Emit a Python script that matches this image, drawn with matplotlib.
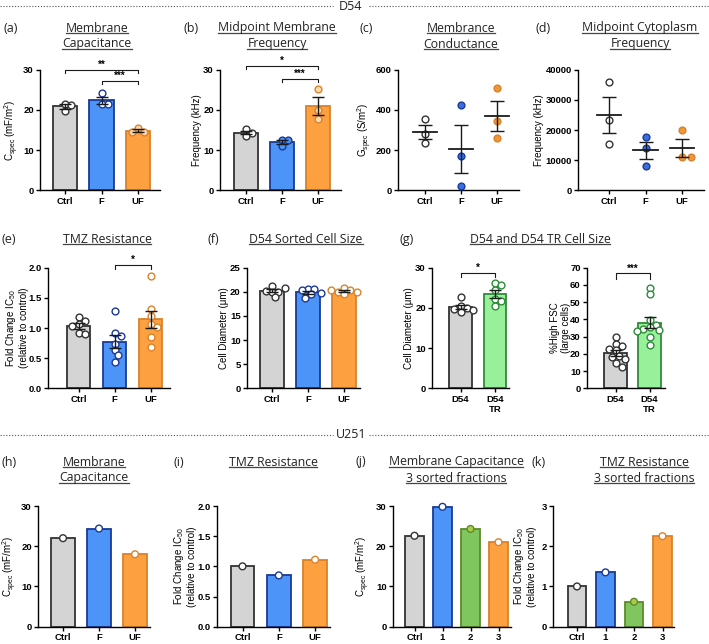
import numpy as np
import matplotlib
matplotlib.use('Agg')
import matplotlib.pyplot as plt
from matplotlib.lines import Line2D
from matplotlib.ticker import FormatStrFormatter

plt.rcParams['font.family'] = ['Liberation Sans', 'DejaVu Sans']
plt.rcParams['font.weight'] = 'bold'
plt.rcParams['mathtext.default'] = 'regular'

W, H = 709, 644

# ---- data ----
grp3 = ['Ctrl', 'F', 'UF']
grp4 = ['Ctrl', '1', '2', '3']
grp_tr = ['D54', 'D54\nTR']

# (a) D54 membrane capacitance (mF/m2)
cap_a = [[21.4, 21.3, 19.8], [24.2, 21.4, 21.4], [15.5, 14.4, 14.4]]
# (b) midpoint membrane frequency (kHz)
fmem_b = [[15.2, 14.3, 13.6], [12.6, 12.5, 11.1], [25.1, 19.9, 17.8]]
# (c) membrane conductance (S/m2)
gmem_c = [[355, 282, 236], [426, 169, 22], [509, 343, 259]]
# (d) midpoint cytoplasm frequency (kHz)
fcyt_d = [[36000, 23400, 15500], [17800, 14000, 8000], [20000, 11150, 11150]]
# (e) TMZ resistance, fold change IC50
tmz_e = [[1.18, 1.12, 1.06, 1.03, 0.91, 0.90],
         [1.28, 0.91, 0.86, 0.74, 0.63, 0.55, 0.44],
         [1.87, 1.32, 1.20, 1.07, 1.02, 0.85, 0.69]]
# (f) D54 sorted cell size (um)
size_f = [[21.2, 20.0, 20.0, 20.1, 20.8, 19.0],
          [20.5, 20.5, 20.4, 19.7, 19.5, 18.8],
          [20.8, 20.3, 20.0, 19.9, 19.5, 20.4]]
# (g) D54 vs D54 TR
diam_g = [[22.7, 20.4, 20.0, 19.8, 19.5, 19.0], [26.1, 25.7, 24.4, 22.1, 21.7, 20.5]]
fsc_g = [[29.5, 25.5, 24.8, 23.0, 22.0, 19.0, 18.0, 17.0, 14.8, 12.3],
         [58.0, 54.5, 39.5, 37.0, 35.5, 34.5, 34.0, 33.0, 30.0, 25.0]]
# (h)-(k) U251
cap_h = [22.0, 24.4, 18.0]
tmz_i = [1.0, 0.85, 1.11]
cap_j = [22.6, 29.8, 24.3, 21.0]
tmz_k = [1.0, 1.35, 0.62, 2.25]

# colours (fill, edge)
GRAY = ('#d4d4d4', '#333333')
BLUE = ('#4c94f7', '#1b3a94')
ORANGE = ('#fda040', '#d9822b')
LGREEN = ('#98f09a', '#2e8b3a')
GREEN = ('#80c65f', '#5f8a2a')

fig = plt.figure(figsize=(7.09, 6.44), dpi=100)


def make_ax(x0, c0, sp, xr, y_top, y_bot, ymax, yticks, labels):
    xl = -(c0 - x0) / sp
    w = (xr - xl) * sp
    ax = fig.add_axes([x0 / W, 1 - y_bot / H, w / W, (y_bot - y_top) / H])
    ax.set_xlim(xl, xr)
    ax.set_ylim(0, ymax)
    ax.set_yticks(yticks)
    ax.set_xticks(range(len(labels)))
    ax.set_xticklabels(labels)
    ax.spines[['top', 'right']].set_visible(False)
    ax.spines[['left', 'bottom']].set_linewidth(1.0)
    ax.tick_params(labelsize=6.8, width=1.0, length=3, pad=1.5)
    ax.patch.set_alpha(0)
    ax._px = (x0, w)
    return ax


def ylab(ax, text, right_px):
    ax.set_ylabel(text, fontsize=7.0, linespacing=1.1)
    x0, w = ax._px
    ax.yaxis.set_label_coords((right_px - x0) / w, 0.5)


def swarm(ax, xc, vals, d=7.0, gap=0.8):
    bb = ax.get_position()
    x0, x1 = ax.get_xlim()
    y0, y1 = ax.get_ylim()
    sx = bb.width * W / (x1 - x0)
    sy = bb.height * H / (y1 - y0)
    placed, xs = [], []
    for v in vals:
        py = v * sy
        for k in range(60):
            off = ((k + 1) // 2) * 0.45 * d * (1 if k % 2 else -1)
            if all((off - qx) ** 2 + (py - qy) ** 2 >= (gap * d) ** 2 for qx, qy in placed):
                break
        placed.append((off, py))
        xs.append(xc + off / sx)
    return xs


def sem(v):
    return np.std(v, ddof=1) / np.sqrt(len(v))


def bar_panel(ax, data, cols, faces):
    x = np.arange(len(data))
    m = [np.mean(v) for v in data]
    e = [sem(v) for v in data]
    ax.bar(x, m, width=0.66, color=[c[0] for c in cols],
           edgecolor=[c[1] for c in cols], linewidth=1.3, zorder=2)
    for i, v in enumerate(data):
        ax.scatter(swarm(ax, i, v), v, s=24, facecolor=faces[i], edgecolor=cols[i][1],
                   linewidth=1.0, zorder=3, clip_on=False)
    ax.errorbar(x, m, yerr=e, fmt='none', ecolor='#1a1a1a', elinewidth=1.0,
                capsize=4.5, capthick=1.0, zorder=4)


def dot_panel(ax, data, cols, faces):
    for i, v in enumerate(data):
        m = np.mean(v)
        ax.scatter(swarm(ax, i, v, gap=0.95), v, s=24, facecolor=faces[i], edgecolor=cols[i][1],
                   linewidth=1.0, zorder=3, clip_on=False)
        ax.plot([i - 0.34, i + 0.34], [m, m], color='#1a1a1a', lw=1.3, zorder=4)
        ax.errorbar(i, m, yerr=sem(v), fmt='none', ecolor='#1a1a1a', elinewidth=1.0,
                    capsize=4.7, capthick=1.0, zorder=4)


def single_panel(ax, vals, cols, faces):
    x = np.arange(len(vals))
    ax.bar(x, vals, width=0.66, color=[c[0] for c in cols],
           edgecolor=[c[1] for c in cols], linewidth=1.3, zorder=2)
    ax.scatter(x, vals, s=24, facecolor=faces, edgecolor=[c[1] for c in cols],
               linewidth=1.0, zorder=3, clip_on=False)


def bracket(ax, x1, x2, y, h, txt):
    ax.plot([x1, x1, x2, x2], [y - h, y, y, y - h], color='#1a1a1a', lw=0.8, clip_on=False)
    ax.text((x1 + x2) / 2, y, txt, ha='center', va='bottom', fontsize=7, clip_on=False)


titles = []


def title(cx, ys, lines, lab, lx):
    for y, s in zip(ys, lines):
        t = fig.text(cx / W, 1 - y / H, s, ha='center', va='center', fontsize=8.8,
                     family=['Open Sans', 'DejaVu Sans'], fontweight='normal', color='#222222')
        titles.append(t)
    fig.text(lx / W, 1 - ys[0] / H, lab, ha='left', va='center', fontsize=9,
             family=['Open Sans', 'DejaVu Sans'], fontweight='normal', color='#222222')


CSPEC = r'C$_{spec}$ (mF/m$^{2}$)'
FOLD = 'Fold Change IC$_{50}$\n(relative to control)'

# ---- row 1 ----
R1 = (69.5, 190.5)
ax = make_ax(40, 65, 36.5, 2.6, *R1, 30, [0, 10, 20, 30], grp3)
bar_panel(ax, cap_a, [GRAY, BLUE, ORANGE], ['white', 'white', '#ffd9b0'])
bracket(ax, 0, 2, 30.0, 0.8, '**')
bracket(ax, 1, 2, 27.2, 0.8, '***')
ylab(ax, CSPEC, 21)

ax = make_ax(220, 246, 36, 2.65, *R1, 30, [0, 10, 20, 30], grp3)
bar_panel(ax, fmem_b, [GRAY, BLUE, ORANGE], ['white', BLUE[0], '#ffd9b0'])
bracket(ax, 0, 2, 30.9, 0.8, '*')
bracket(ax, 1, 2, 27.6, 0.8, '***')
ylab(ax, 'Frequency (kHz)', 202)

ax = make_ax(398, 425, 36, 2.6, *R1, 600, [0, 200, 400, 600], grp3)
dot_panel(ax, gmem_c, [GRAY, BLUE, ORANGE], ['white', '#3b6fe0', '#f0953a'])
ylab(ax, r'G$_{spec}$ (S/m$^{2}$)', 374)

ax = make_ax(578, 609, 36.5, 2.6, *R1, 40000, [0, 10000, 20000, 30000, 40000], grp3)
dot_panel(ax, fcyt_d, [GRAY, BLUE, ORANGE], ['white', '#3b6fe0', '#f0953a'])
ylab(ax, 'Frequency (kHz)', 544)

# ---- row 2 ----
R2 = (267.7, 388.3)
ax = make_ax(48, 78.5, 36, 2.55, *R2, 2.0, [0, 0.5, 1.0, 1.5, 2.0], grp3)
ax.yaxis.set_major_formatter(FormatStrFormatter('%.1f'))
bar_panel(ax, tmz_e, [GRAY, BLUE, ORANGE], ['white', 'white', 'white'])
bracket(ax, 1, 2, 2.05, 0.07, '*')
ylab(ax, FOLD, 29)

ax = make_ax(247, 272, 36, 2.45, *R2, 25, [0, 5, 10, 15, 20, 25], grp3)
bar_panel(ax, size_f, [GRAY, BLUE, ORANGE], ['white', 'white', 'white'])
ylab(ax, 'Cell Diameter (μm)', 229)

ax = make_ax(432, 460.5, 34.5, 1.4, *R2, 30, [0, 10, 20, 30], grp_tr)
bar_panel(ax, diam_g, [GRAY, LGREEN], ['white', 'white'])
bracket(ax, 0, 1, 28.8, 1.0, '*')
ylab(ax, 'Cell Diameter (μm)', 414)

ax = make_ax(587, 615.5, 34, 1.45, *R2, 70, list(range(0, 71, 10)), grp_tr)
bar_panel(ax, fsc_g, [GRAY, LGREEN], ['white', 'white'])
bracket(ax, 0, 1, 66.7, 3.0, '***')
ylab(ax, '%High FSC\n(large cells)', 571)

# ---- row 3 ----
R3 = (506, 626.7)
ax = make_ax(38, 63, 36, 2.42, *R3, 30, [0, 10, 20, 30], grp3)
single_panel(ax, cap_h, [GRAY, BLUE, ORANGE], ['white', 'white', 'white'])
ylab(ax, CSPEC, 19)

ax = make_ax(217, 242.5, 36.3, 2.4, *R3, 2.0, [0, 0.5, 1.0, 1.5, 2.0], grp3)
ax.yaxis.set_major_formatter(FormatStrFormatter('%.1f'))
single_panel(ax, tmz_i, [GRAY, BLUE, ORANGE], ['white', 'white', 'white'])
ylab(ax, FOLD, 197)

ax = make_ax(393, 414.5, 28, 3.45, *R3, 30, [0, 10, 20, 30], grp4)
single_panel(ax, cap_j, [GRAY, BLUE, GREEN, ORANGE], ['white', 'white', '#a9cc45', 'white'])
ylab(ax, CSPEC, 372)

ax = make_ax(553, 577, 28.5, 3.4, *R3, 3, [0, 1, 2, 3], grp4)
single_panel(ax, tmz_k, [GRAY, BLUE, GREEN, ORANGE], ['white', 'white', '#a9cc45', 'white'])
ylab(ax, FOLD, 537)

# ---- titles ----
title(97, [28, 44], ['Membrane', 'Capacitance'], '(a)', 3)
title(277, [28, 44], ['Midpoint Membrane', 'Frequency'], '(b)', 184)
title(461, [28, 44], ['Membrance', 'Conductance'], '(c)', 360)
title(640, [28, 44], ['Midpoint Cytoplasm', 'Frequency'], '(d)', 535)
title(107, [239], ['TMZ Resistance'], '(e)', 2)
title(306, [239], ['D54 Sorted Cell Size'], '(f)', 207)
title(540, [239], ['D54 and D54 TR Cell Size'], '(g)', 399)
title(94, [462, 478], ['Membrane', 'Capacitance'], '(h)', 2)
title(273, [462], ['TMZ Resistance'], '(i)', 173)
title(456, [462, 478], ['Membrane Capacitance', '3 sorted fractions'], '(j)', 355)
title(644, [462, 478], ['TMZ Resistance', '3 sorted fractions'], '(k)', 532)

# section headers with dotted rules
for lab, y in [('D54', 6), ('U251', 435)]:
    fig.text(351 / W, 1 - y / H, lab, ha='center', va='center', fontsize=9,
             family=['Open Sans', 'DejaVu Sans'], fontweight='normal', color='#222222')
    for xa, xb in [(0, 333), (369, 709)]:
        fig.add_artist(Line2D([xa / W, xb / W], [1 - y / H, 1 - y / H], transform=fig.transFigure,
                              color='#555555', lw=0.8, ls=(0, (1, 1.6))))

r = fig.canvas.get_renderer()
for t in titles:
    bb = t.get_window_extent(r)
    yy = (bb.y0 + 1.5) / H
    fig.add_artist(Line2D([bb.x0 / W, bb.x1 / W], [yy, yy], transform=fig.transFigure,
                          color='#444444', lw=0.9))

fig.savefig('out.png', dpi=100)
